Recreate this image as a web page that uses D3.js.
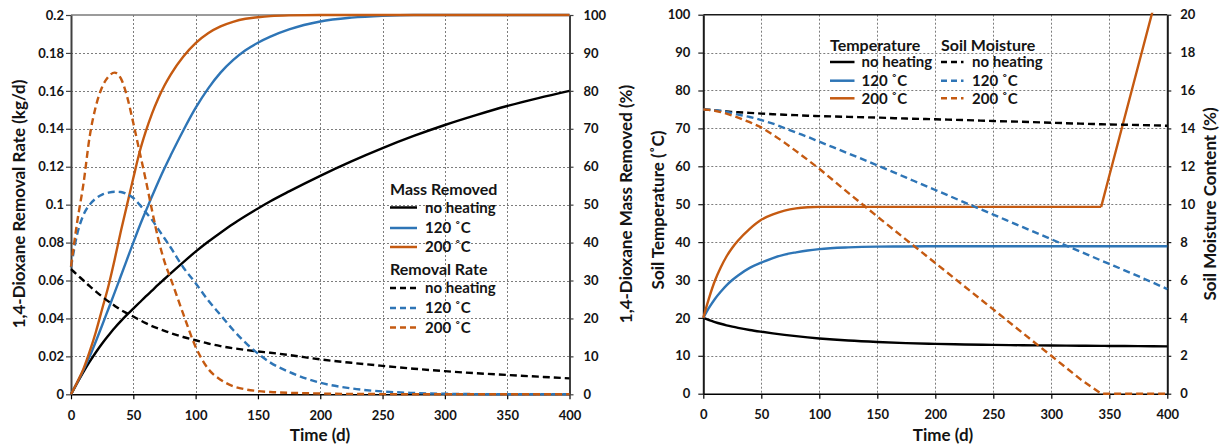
<!DOCTYPE html>
<html>
<head>
<meta charset="utf-8">
<script src="https://cdn.jsdelivr.net/npm/d3@7"></script>
<style>
  body { margin: 0; background: #fff; }
  svg text { font-family: Lato, "Open Sans", sans-serif; font-weight: 700; fill: #141414; }
</style>
</head>
<body>
<svg id="chart" width="1225" height="446"></svg>
<script>
// ---------- data ----------
const timeTicks  = [0, 50, 100, 150, 200, 250, 300, 350, 400];
const rateTicks  = [0, 0.02, 0.04, 0.06, 0.08, 0.1, 0.12, 0.14, 0.16, 0.18, 0.2];
const massTicks  = [0, 10, 20, 30, 40, 50, 60, 70, 80, 90, 100];
const tempTicks  = [0, 10, 20, 30, 40, 50, 60, 70, 80, 90, 100];
const moistTicks = [0, 2, 4, 6, 8, 10, 12, 14, 16, 18, 20];

// left panel: days, mass removed (%), removal rate (kg/d)
const daysL    = [0, 5, 10, 15, 20, 25, 30, 35, 40, 45, 50, 55, 60, 65, 70, 75, 80, 90, 100, 110, 120, 130, 140, 150, 160, 175, 200, 225, 250, 275, 300, 325, 350, 375, 400];
const massNone = [0, 3.0, 5.9, 8.6, 11.1, 13.4, 15.5, 17.5, 19.3, 21, 22.6, 24.2, 25.8, 27.35, 28.9, 30.4, 31.9, 34.8, 37.6, 40.2, 42.6, 44.9, 47, 49, 50.9, 53.5, 57.6, 61.4, 64.9, 68.1, 71, 73.6, 76, 78.1, 80];
const mass120  = [0, 3.1, 6.4, 10, 14, 18.2, 22.5, 26.8, 31.2, 35.6, 40, 44.3, 48.3, 52.2, 56, 59.6, 63, 69.5, 75.5, 80.6, 84.8, 88.1, 90.7, 92.7, 94.3, 96.2, 98.3, 99.3, 99.8, 100, 100, 100, 100, 100, 100];
const mass200  = [0, 3.2, 6.7, 11.3, 16.5, 22.5, 28.5, 35.5, 43, 50, 57, 63.8, 69.3, 74, 78, 81.4, 84.3, 89, 92.6, 95.2, 97, 98.2, 99, 99.4, 99.7, 99.9, 100, 100, 100, 100, 100, 100, 100, 100, 100];
const rateNone = [0.066, 0.063, 0.06, 0.057, 0.0542, 0.0515, 0.049, 0.0467, 0.0445, 0.0427, 0.041, 0.0392, 0.0375, 0.036, 0.0347, 0.0335, 0.0323, 0.0302, 0.0285, 0.0268, 0.0254, 0.0243, 0.0234, 0.0226, 0.0219, 0.0207, 0.0184, 0.0166, 0.015, 0.0135, 0.0122, 0.0111, 0.0102, 0.0093, 0.0084];
const rate120  = [0.067, 0.0845, 0.0946, 0.1, 0.1033, 0.1053, 0.1063, 0.1068, 0.1067, 0.1055, 0.1035, 0.1, 0.096, 0.092, 0.0871, 0.0823, 0.0774, 0.067, 0.0586, 0.0496, 0.0418, 0.034, 0.0272, 0.0215, 0.0167, 0.0118, 0.0061, 0.0031, 0.0015, 0.0007, 0.0003, 0.0001, 0, 0, 0];
const rate200  = [0.0673, 0.091, 0.111, 0.136, 0.152, 0.162, 0.1675, 0.1696, 0.1666, 0.157, 0.143, 0.128, 0.113, 0.097, 0.082, 0.07, 0.061, 0.0425, 0.025, 0.0135, 0.0077, 0.0043, 0.0026, 0.0017, 0.0012, 0.0008, 0.0004, 0.0002, 0.0001, 0, 0, 0, 0, 0, 0];

// right panel: days, soil temperature (°C), soil moisture (%)
const daysR     = [0, 5, 10, 15, 20, 25, 30, 40, 50, 60, 70, 80, 90, 100, 125, 150, 175, 200, 225, 250, 275, 300, 325, 343, 350, 375, 400];
const tempNone  = [20, 19.4, 18.9, 18.45, 18.05, 17.7, 17.38, 16.82, 16.35, 15.92, 15.53, 15.18, 14.86, 14.58, 14.02, 13.63, 13.35, 13.15, 13.0, 12.88, 12.79, 12.72, 12.66, 12.62, 12.6, 12.55, 12.5];
const temp120   = [20, 22.7, 25, 26.9, 28.6, 30, 31.2, 33.2, 34.6, 35.8, 36.7, 37.3, 37.8, 38.15, 38.6, 38.8, 38.85, 38.9, 38.9, 38.9, 38.9, 38.9, 38.9, 38.9, 38.9, 38.9, 38.9];
const temp200   = [20, 25.3, 29.8, 33.3, 36.2, 38.5, 40.4, 43.5, 45.9, 47.3, 48.3, 48.9, 49.2, 49.3, 49.3, 49.3, 49.3, 49.3, 49.3, 49.3, 49.3, 49.3, 49.3, 49.3, 57.5, 86.6, 115.7];
const moistNone = [15, 14.98, 14.95, 14.92, 14.9, 14.87, 14.85, 14.82, 14.78, 14.75, 14.72, 14.7, 14.67, 14.65, 14.61, 14.57, 14.52, 14.48, 14.44, 14.39, 14.35, 14.3, 14.25, 14.22, 14.21, 14.18, 14.14];
const moist120  = [15, 14.99, 14.96, 14.92, 14.87, 14.8, 14.73, 14.6, 14.44, 14.25, 14.02, 13.78, 13.55, 13.3, 12.68, 12.05, 11.4, 10.75, 10.1, 9.45, 8.8, 8.15, 7.5, 7.03, 6.85, 6.2, 5.52];
const moist200  = [15, 14.98, 14.93, 14.86, 14.78, 14.68, 14.57, 14.33, 14.05, 13.67, 13.25, 12.8, 12.34, 11.87, 10.6, 9.35, 8.12, 6.9, 5.67, 4.45, 3.22, 2.0, 0.77, 0, 0, 0, 0];

// ---------- drawing ----------
const svg = d3.select('#chart');
const col = { none: '#000000', t120: '#2E75B6', t200: '#C55A11' };
const DASH = '7,4';
const crisp = v => Math.round(v) + 0.5;

function drawPanel (o) {
  const x  = d3.scaleLinear().domain([0, 400]).range([o.left, o.right]);
  const yL = d3.scaleLinear().domain(o.yLDomain).range([o.bottom, o.top]);
  const yR = d3.scaleLinear().domain(o.yRDomain).range([o.bottom, o.top]);
  const g  = svg.append('g');

  /* grid (dotted) */
  g.append('g').selectAll('line').data(o.yLTicks.slice(1, -1)).join('line')
    .attr('x1', o.left).attr('x2', o.right)
    .attr('y1', d => crisp(yL(d))).attr('y2', d => crisp(yL(d)))
    .attr('stroke', '#7d7d7d').attr('stroke-width', 1).attr('stroke-dasharray', '2,2');
  g.append('g').selectAll('line').data(timeTicks.slice(1, -1)).join('line')
    .attr('y1', o.top).attr('y2', o.bottom)
    .attr('x1', d => crisp(x(d))).attr('x2', d => crisp(x(d)))
    .attr('stroke', '#7d7d7d').attr('stroke-width', 1).attr('stroke-dasharray', '2,2');
  g.append('line').attr('x1', o.left).attr('x2', o.right).attr('y1', o.top).attr('y2', o.top)
    .attr('stroke', o.topColor).attr('stroke-width', 1.5);

  /* axes */
  const xAx = g.append('g').attr('transform', `translate(0,${o.bottom})`)
    .call(d3.axisBottom(x).tickValues(timeTicks).tickSize(5).tickSizeOuter(0).tickPadding(11));
  const lAx = g.append('g').attr('transform', `translate(${o.left},0)`)
    .call(d3.axisLeft(yL).tickValues(o.yLTicks).tickFormat(d3.format('')).tickSize(5).tickSizeOuter(0).tickPadding(o.lPad));
  const rAx = g.append('g').attr('transform', `translate(${o.right},0)`)
    .call(d3.axisRight(yR).tickValues(o.yRTicks).tickFormat(d3.format('')).tickSize(4).tickSizeOuter(0).tickPadding(o.rPad));
  [xAx, lAx, rAx].forEach((a, i) => {
    a.selectAll('text').style('font-size', '13px').style('font-family', 'Lato, sans-serif');
    a.select('.domain').attr('stroke', i === 0 ? '#000' : o.sideColor).attr('stroke-width', i === 0 ? 1.5 : 2);
    a.selectAll('.tick line').attr('stroke', i === 0 ? '#000' : o.sideColor).attr('stroke-width', 1.2);
  });

  /* series */
  const clipId = 'clip' + o.id;
  svg.append('clipPath').attr('id', clipId).append('rect')
    .attr('x', o.left - 2).attr('y', o.top - 2)
    .attr('width', o.right - o.left + 4).attr('height', o.bottom - o.top + 4);
  const sg = g.append('g').attr('clip-path', `url(#${clipId})`);
  o.series.forEach(s => {
    const y = s.axis === 'L' ? yL : yR;
    const pts = o.days.map((d, i) => [d, s.values[i]]);
    const segs = s.linearFrom == null
      ? [[pts, s.curve || d3.curveMonotoneX]]
      : [[pts.filter(p => p[0] <= s.linearFrom), d3.curveMonotoneX],
         [pts.filter(p => p[0] >= s.linearFrom), d3.curveLinear]];
    segs.forEach(([data, curve]) => {
      sg.append('path').datum(data)
        .attr('fill', 'none').attr('stroke', s.color).attr('stroke-width', 2.4)
        .attr('stroke-dasharray', s.dashed ? DASH : null)
        .attr('stroke-linejoin', 'round')
        .attr('d', d3.line().x(p => x(p[0])).y(p => y(p[1])).curve(curve));
    });
  });

  /* axis titles */
  const title = (txt, cx, cy, rot) => g.append('text')
    .attr('transform', `translate(${cx},${cy}) rotate(${rot})`)
    .attr('text-anchor', 'middle').attr('dy', '0.36em')
    .style('font-size', '17px').text(txt);
  title('Time (d)', o.xTitle[0], o.xTitle[1], 0);
  title(o.lTitle[0], o.lTitle[1], o.lTitle[2], -90);
  title(o.rTitle[0], o.rTitle[1], o.rTitle[2], -90);

  /* legend */
  o.legend.forEach(item => {
    if (item.head) {
      g.append('text').attr('x', item.x).attr('y', item.y).attr('dy', '0.36em')
        .style('font-size', '16px').text(item.head);
      return;
    }
    g.append('line').attr('x1', item.x).attr('x2', item.x + item.w)
      .attr('y1', item.y).attr('y2', item.y)
      .attr('stroke', item.color).attr('stroke-width', 2.5)
      .attr('stroke-dasharray', item.dashed ? '6,4' : null);
    g.append('text').attr('x', item.tx).attr('y', item.y).attr('dy', '0.36em')
      .style('font-size', '15px').text(item.label);
  });
}

function legendBlock (x, tx, w, heads, rows) {
  const out = [];
  heads.forEach(h => out.push({ head: h.text, x, y: h.y }));
  rows.forEach(r => out.push(Object.assign({ x, tx, w }, r)));
  return out;
}

drawPanel({
  id: 'L', left: 71, right: 569.5, top: 15, bottom: 394.3,
  days: daysL,
  yLDomain: [0, 0.2], yRDomain: [0, 100], yLTicks: rateTicks, yRTicks: massTicks,
  lPad: 2, rPad: 10, topColor: '#7a7a7a', sideColor: '#404040',
  xTitle: [320, 435],
  lTitle: ['1,4-Dioxane Removal Rate (kg/d)', 18.5, 204],
  rTitle: ['1,4-Dioxane Mass Removed (%)', 626, 204],
  series: [
    { values: massNone, axis: 'R', color: col.none },
    { values: mass120,  axis: 'R', color: col.t120 },
    { values: mass200,  axis: 'R', color: col.t200 },
    { values: rateNone, axis: 'L', color: col.none, dashed: true },
    { values: rate120,  axis: 'L', color: col.t120, dashed: true },
    { values: rate200,  axis: 'L', color: col.t200, dashed: true }
  ],
  legend: legendBlock(390, 425, 27,
    [{ text: 'Mass Removed', y: 189 }, { text: 'Removal Rate', y: 269 }],
    [
      { label: 'no heating', color: col.none, y: 207.5 },
      { label: '120 ˚C', color: col.t120, y: 228 },
      { label: '200 ˚C', color: col.t200, y: 247 },
      { label: 'no heating', color: col.none, y: 288, dashed: true },
      { label: '120 ˚C', color: col.t120, y: 308, dashed: true },
      { label: '200 ˚C', color: col.t200, y: 327.5, dashed: true }
    ])
});

drawPanel({
  id: 'R', left: 703.3, right: 1167.3, top: 14.7, bottom: 393.7,
  days: daysR,
  yLDomain: [0, 100], yRDomain: [0, 20], yLTicks: tempTicks, yRTicks: moistTicks,
  lPad: 8, rPad: 9, topColor: '#1a1a1a', sideColor: '#1a1a1a',
  xTitle: [943, 435],
  lTitle: ['Soil Temperature (˚C)', 657.5, 210],
  rTitle: ['Soil Moisture Content (%)', 1209.5, 204],
  series: [
    { values: tempNone,  axis: 'L', color: col.none },
    { values: temp120,   axis: 'L', color: col.t120 },
    { values: temp200,   axis: 'L', color: col.t200, linearFrom: 343 },
    { values: moistNone, axis: 'R', color: col.none, dashed: true },
    { values: moist120,  axis: 'R', color: col.t120, dashed: true },
    { values: moist200,  axis: 'R', color: col.t200, dashed: true, curve: d3.curveLinear }
  ],
  legend: [
    ...legendBlock(830, 861.5, 24.5, [{ text: 'Temperature', y: 45 }], [
      { label: 'no heating', color: col.none, y: 62 },
      { label: '120 ˚C', color: col.t120, y: 80.7 },
      { label: '200 ˚C', color: col.t200, y: 98.3 }
    ]),
    ...legendBlock(941, 972, 22.5, [{ text: 'Soil Moisture', y: 45 }], [
      { label: 'no heating', color: col.none, y: 62, dashed: true },
      { label: '120 ˚C', color: col.t120, y: 80.7, dashed: true },
      { label: '200 ˚C', color: col.t200, y: 98.3, dashed: true }
    ])
  ]
});
</script>
</body>
</html>
